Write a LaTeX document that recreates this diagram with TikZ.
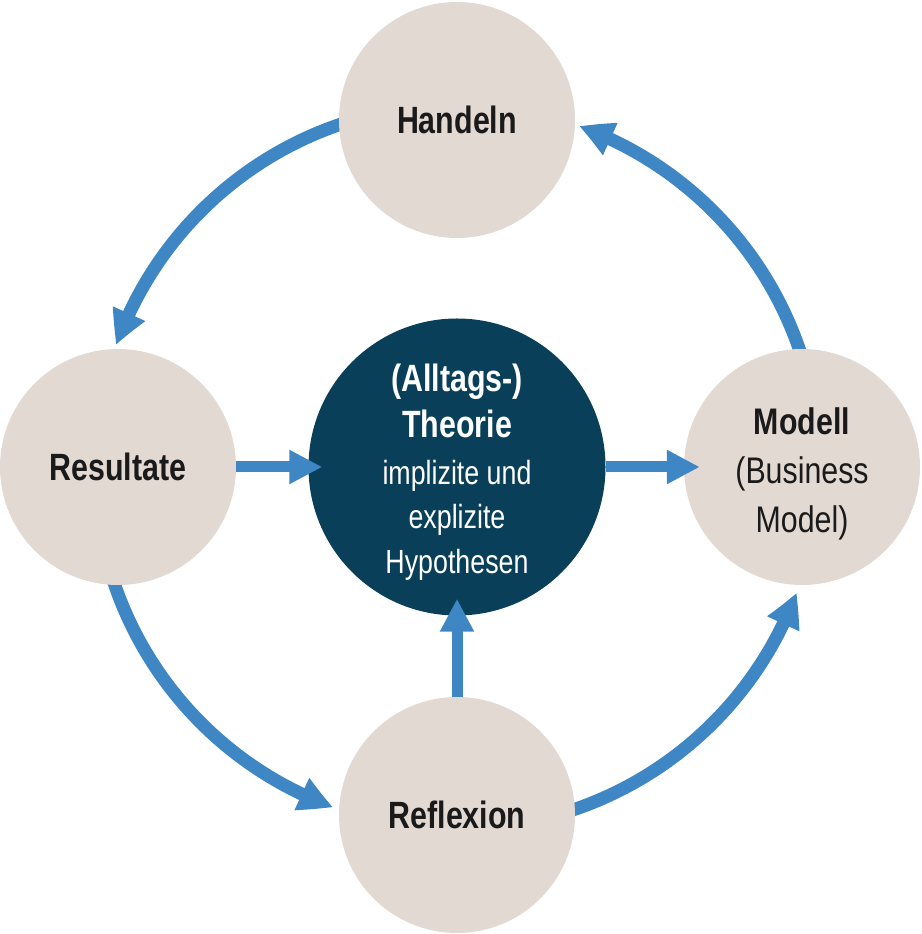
\documentclass[tikz,border=0pt]{standalone}
\usepackage{fontspec}
\setmainfont{Liberation Sans}[FakeStretch=0.8]
\newfontfamily\modfont{Liberation Sans}[FakeStretch=0.82]
\usetikzlibrary{arrows.meta,bending}
\definecolor{beige}{HTML}{E3D9D3}
\definecolor{darkteal}{HTML}{093F58}
\definecolor{arrowblue}{HTML}{3F86C5}
\definecolor{txt}{HTML}{1A1A1A}
\tikzset{
  sat/.style={circle, fill=beige, minimum size=236pt, inner sep=0pt, align=center, text=txt},
  core/.style={circle, fill=darkteal, minimum size=297pt, inner sep=0pt, align=center, text=white},
  boldlbl/.style={font=\fontsize{38}{45}\selectfont\bfseries},
  arcarrow/.style={draw=arrowblue, line width=13pt, -{Triangle[width=33pt,length=34pt,bend]}},
  strarrow/.style={draw=arrowblue, line width=11pt, -{Triangle[width=32pt,length=33pt]}},
}
\begin{document}
\begin{tikzpicture}[x=1pt,y=1pt]
\useasboundingbox (0,0) rectangle (921,934);
\coordinate (ctrpt) at (457,467);
% arcs (drawn below circles)
\draw[arcarrow] ([shift={(107:362)}]ctrpt) arc[start angle=107, end angle=160.3, radius=362];
\draw[arcarrow] ([shift={(17:362)}]ctrpt) arc[start angle=17, end angle=70.3, radius=362];
\draw[arcarrow] ([shift={(197:362)}]ctrpt) arc[start angle=197, end angle=250, radius=362];
\draw[arcarrow] ([shift={(287:362)}]ctrpt) arc[start angle=287, end angle=339.7, radius=362];
% nodes
\node[core] (ctr) at (ctrpt) {};
\node[sat, boldlbl] (hand) at (457,814) {Handeln};
\node[sat, boldlbl] (res) at (118,467) {Resultate};
\node[sat, boldlbl] (refl) at (457,119) {Reflexion};
\node[sat, font=\modfont\fontsize{37}{49}\selectfont] (mod) at (802,467)
  {\raisebox{-7pt}[\height][\depth]{\begin{tabular}{@{}c@{}}\textbf{Modell}\\(Business\\Model)\end{tabular}}};
\node[text=white, align=center, font=\fontsize{33.5}{44.5}\selectfont] (ctrtxt) at (457,462)
  {{\fontsize{38}{44.5}\selectfont\bfseries (Alltags-)}\\[2pt]{\fontsize{38}{44.5}\selectfont\bfseries Theorie}\\[2pt]implizite und\\explizite\\Hypothesen};
% straight arrows
\draw[strarrow] (res.east) -- ([xshift=14pt]ctr.west);
\draw[strarrow] (ctr.east) -- ([xshift=16pt]mod.west);
\draw[strarrow] (refl.north) -- ([yshift=17pt]ctr.south);
\end{tikzpicture}
\end{document}
